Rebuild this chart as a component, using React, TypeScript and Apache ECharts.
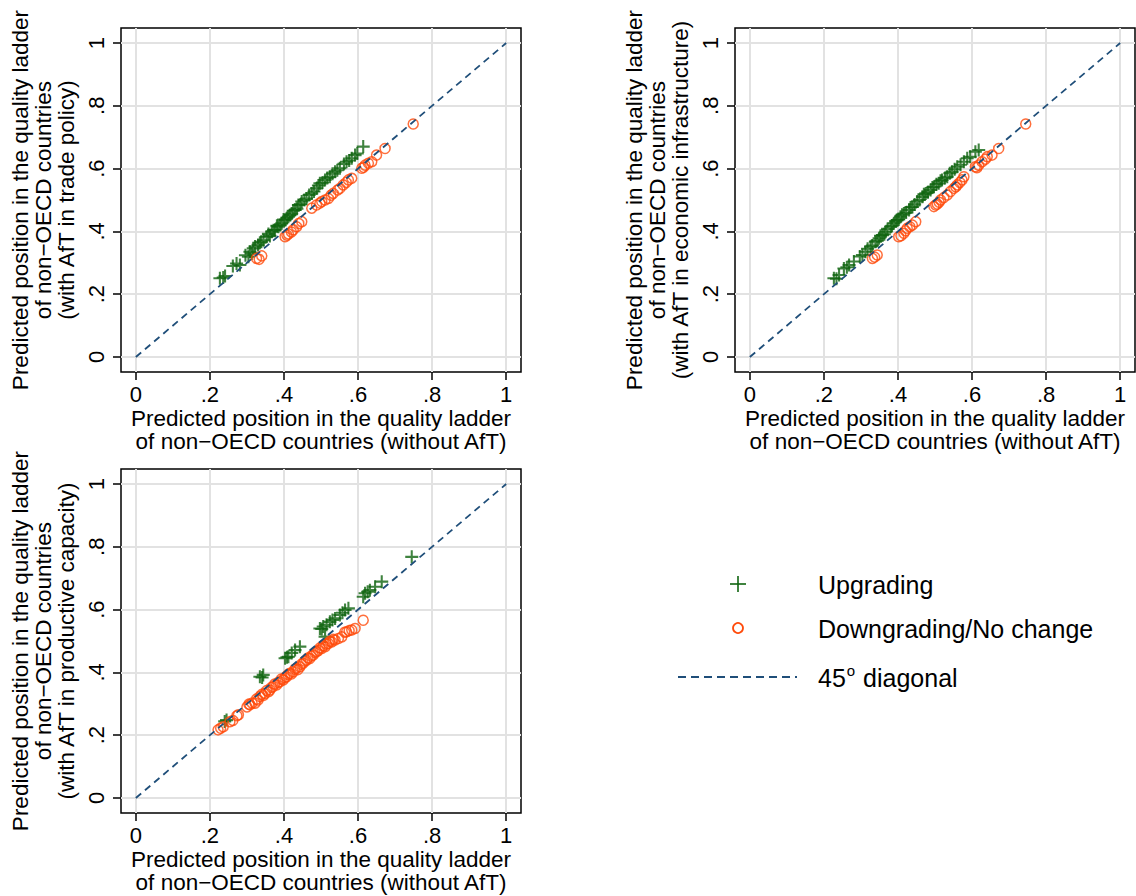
import React, { useEffect, useRef } from "react";
import * as echarts from "echarts";

const tickValues = [0, 0.2, 0.4, 0.6, 0.8, 1];
const diagonal = [[0, 0], [1, 1]];

const xTitle = "Predicted position in the quality ladder\nof non\u2212OECD countries (without AfT)";
const yTitles = [
  "Predicted position in the quality ladder\nof non\u2212OECD countries\n(with AfT in trade policy)",
  "Predicted position in the quality ladder\nof non\u2212OECD countries\n(with AfT in economic infrastructure)",
  "Predicted position in the quality ladder\nof non\u2212OECD countries\n(with AfT in productive capacity)",
];
const legendLabels = ["Upgrading", "Downgrading/No change", "45", "o", " diagonal"];

const tradeUp = [
  [0.227, 0.251], [0.236, 0.253], [0.241, 0.258], [0.262, 0.29], [0.272, 0.298], [0.281, 0.293],
  [0.296, 0.324], [0.304, 0.319], [0.308, 0.335], [0.313, 0.33], [0.317, 0.346], [0.322, 0.352],
  [0.33, 0.357], [0.335, 0.364], [0.339, 0.367], [0.345, 0.372], [0.353, 0.383], [0.358, 0.392],
  [0.362, 0.385], [0.367, 0.399], [0.372, 0.404], [0.376, 0.405], [0.381, 0.418], [0.385, 0.415],
  [0.39, 0.42], [0.394, 0.426], [0.399, 0.438], [0.403, 0.436], [0.408, 0.443], [0.412, 0.447],
  [0.416, 0.452], [0.421, 0.457], [0.425, 0.466], [0.43, 0.468], [0.435, 0.472], [0.439, 0.484],
  [0.444, 0.486], [0.448, 0.495], [0.455, 0.5], [0.461, 0.505], [0.468, 0.516], [0.475, 0.521],
  [0.481, 0.527], [0.488, 0.537], [0.493, 0.546], [0.497, 0.553], [0.504, 0.556], [0.511, 0.564],
  [0.517, 0.57], [0.524, 0.574], [0.531, 0.584], [0.538, 0.59], [0.544, 0.595], [0.551, 0.601],
  [0.562, 0.615], [0.569, 0.622], [0.576, 0.626], [0.583, 0.633], [0.592, 0.643], [0.598, 0.648],
  [0.614, 0.67],
];
const tradeDown = [
  [0.326, 0.314], [0.333, 0.311], [0.34, 0.322], [0.403, 0.383], [0.408, 0.388], [0.412, 0.392],
  [0.42, 0.398], [0.425, 0.405], [0.434, 0.415], [0.44, 0.425], [0.448, 0.431], [0.475, 0.474],
  [0.488, 0.484], [0.497, 0.49], [0.502, 0.495], [0.511, 0.5], [0.52, 0.505], [0.527, 0.515],
  [0.533, 0.521], [0.545, 0.532], [0.551, 0.537], [0.56, 0.548], [0.568, 0.556], [0.574, 0.564],
  [0.583, 0.569], [0.61, 0.601], [0.615, 0.604], [0.619, 0.611], [0.628, 0.617], [0.637, 0.622],
  [0.65, 0.643], [0.673, 0.664], [0.749, 0.742],
];
const infraUp = [
  [0.227, 0.251], [0.234, 0.249], [0.241, 0.261], [0.254, 0.282], [0.262, 0.286], [0.268, 0.293],
  [0.281, 0.304], [0.297, 0.32], [0.304, 0.325], [0.312, 0.335], [0.318, 0.345], [0.326, 0.351],
  [0.331, 0.355], [0.339, 0.367], [0.344, 0.371], [0.349, 0.378], [0.353, 0.386], [0.358, 0.388],
  [0.363, 0.391], [0.367, 0.399], [0.372, 0.408], [0.38, 0.415], [0.384, 0.418], [0.389, 0.426],
  [0.394, 0.432], [0.398, 0.436], [0.402, 0.438], [0.407, 0.447], [0.411, 0.453], [0.416, 0.457],
  [0.422, 0.46], [0.43, 0.468], [0.434, 0.476], [0.439, 0.478], [0.445, 0.486], [0.452, 0.495],
  [0.458, 0.5], [0.466, 0.51], [0.47, 0.518], [0.475, 0.521], [0.481, 0.525], [0.488, 0.532],
  [0.493, 0.54], [0.497, 0.542], [0.504, 0.55], [0.51, 0.553], [0.515, 0.561], [0.519, 0.564],
  [0.527, 0.57], [0.533, 0.574], [0.54, 0.585], [0.546, 0.59], [0.553, 0.598], [0.56, 0.606],
  [0.569, 0.612], [0.578, 0.622], [0.587, 0.633], [0.595, 0.638], [0.609, 0.654], [0.618, 0.659],
];
const infraDown = [
  [0.331, 0.314], [0.337, 0.318], [0.344, 0.325], [0.402, 0.383], [0.408, 0.386], [0.416, 0.394],
  [0.42, 0.402], [0.425, 0.41], [0.432, 0.415], [0.439, 0.42], [0.448, 0.431], [0.497, 0.479],
  [0.502, 0.484], [0.506, 0.487], [0.511, 0.493], [0.515, 0.5], [0.524, 0.508], [0.533, 0.516],
  [0.542, 0.527], [0.551, 0.537], [0.556, 0.542], [0.56, 0.548], [0.567, 0.556], [0.573, 0.564],
  [0.578, 0.574], [0.609, 0.606], [0.613, 0.603], [0.618, 0.611], [0.627, 0.622], [0.636, 0.63],
  [0.641, 0.638], [0.654, 0.643], [0.672, 0.664], [0.745, 0.742],
];
const prodUp = [
  [0.24, 0.244], [0.245, 0.248], [0.335, 0.386], [0.341, 0.384], [0.344, 0.392], [0.403, 0.445],
  [0.408, 0.448], [0.412, 0.45], [0.421, 0.462], [0.43, 0.471], [0.443, 0.482], [0.497, 0.54],
  [0.502, 0.538], [0.506, 0.546], [0.511, 0.514], [0.515, 0.552], [0.524, 0.561], [0.531, 0.567],
  [0.538, 0.572], [0.551, 0.583], [0.558, 0.59], [0.565, 0.599], [0.574, 0.604], [0.614, 0.641],
  [0.619, 0.652], [0.626, 0.657], [0.632, 0.662], [0.646, 0.673], [0.664, 0.689], [0.745, 0.768],
];
const prodDown = [
  [0.222, 0.217], [0.229, 0.222], [0.236, 0.227], [0.254, 0.243], [0.262, 0.247], [0.273, 0.262],
  [0.277, 0.265], [0.3, 0.29], [0.305, 0.299], [0.308, 0.297], [0.314, 0.302], [0.322, 0.302],
  [0.326, 0.315], [0.33, 0.312], [0.335, 0.323], [0.34, 0.33], [0.344, 0.326], [0.349, 0.333],
  [0.353, 0.342], [0.358, 0.338], [0.362, 0.344], [0.366, 0.352], [0.371, 0.355], [0.375, 0.363],
  [0.38, 0.36], [0.384, 0.368], [0.389, 0.37], [0.393, 0.379], [0.398, 0.376], [0.402, 0.383],
  [0.407, 0.386], [0.411, 0.393], [0.416, 0.397], [0.42, 0.395], [0.425, 0.402], [0.429, 0.41],
  [0.434, 0.413], [0.438, 0.409], [0.443, 0.418], [0.447, 0.426], [0.452, 0.429], [0.456, 0.436],
  [0.461, 0.439], [0.465, 0.446], [0.47, 0.444], [0.474, 0.452], [0.479, 0.455], [0.483, 0.463],
  [0.488, 0.466], [0.493, 0.47], [0.497, 0.478], [0.502, 0.476], [0.506, 0.485], [0.511, 0.482],
  [0.515, 0.49], [0.52, 0.492], [0.524, 0.499], [0.529, 0.497], [0.533, 0.505], [0.538, 0.503],
  [0.547, 0.508], [0.556, 0.513], [0.564, 0.528], [0.569, 0.529], [0.576, 0.533], [0.583, 0.535],
  [0.592, 0.54], [0.614, 0.566],
];

const panelsUp = [tradeUp, infraUp, prodUp];
const panelsDown = [tradeDown, infraDown, prodDown];

const FONT = "Liberation Sans, Arial, Helvetica, sans-serif";
const GREEN = "#0f640f";
const ORANGE = "#ff4a0a";
const NAVY = "#1f4e79";
const GRIDC = "#e2e2e2";
const CROSS = "path://M0,42h100v16h-100z M42,0h16v100h-16z";

const grids = [
  { left: 121, top: 28, width: 400, height: 344 },
  { left: 735, top: 28, width: 400, height: 344 },
  { left: 121, top: 469, width: 400, height: 344 },
];

const fmt = (v: number) => (v === 0 ? "0" : v === 1 ? "1" : v.toFixed(1).replace(/^0/, ""));

export default function App() {
  const ref = useRef<HTMLDivElement>(null);
  useEffect(() => {
    if (!ref.current) return;
    const chart = echarts.init(ref.current, undefined, { renderer: "svg" });
    const xAxis: any[] = [];
    const yAxis: any[] = [];
    const series: any[] = [];
    grids.forEach((g, i) => {
      xAxis.push({
        gridIndex: i,
        type: "value",
        min: -0.04,
        max: 1.04,
        axisLine: { show: false, onZero: false },
        axisTick: { show: true, inside: false, length: 8, lineStyle: { color: "#000", width: 1.5 }, customValues: tickValues },
        axisLabel: { customValues: tickValues, formatter: fmt, fontSize: 22, color: "#000", fontFamily: FONT, margin: 11 },
        splitLine: { show: true, lineStyle: { color: GRIDC, width: 2 } },
        name: xTitle,
        nameLocation: "middle",
        nameGap: 35,
        nameTextStyle: { fontSize: 22.5, lineHeight: 23, color: "#000", fontFamily: FONT },
      });
      yAxis.push({
        gridIndex: i,
        type: "value",
        min: -0.0478,
        max: 1.0478,
        axisLine: { show: false, onZero: false },
        axisTick: { show: true, inside: false, length: 8, lineStyle: { color: "#000", width: 1.5 }, customValues: tickValues },
        axisLabel: { customValues: tickValues, formatter: fmt, fontSize: 22, color: "#000", fontFamily: FONT, margin: 14, rotate: 90 },
        splitLine: { show: true, lineStyle: { color: GRIDC, width: 2 } },
        name: yTitles[i],
        nameLocation: "middle",
        nameGap: 43,
        nameTextStyle: { fontSize: 22.5, lineHeight: 23, color: "#000", fontFamily: FONT },
      });
      series.push({
        type: "scatter",
        name: "Upgrading",
        xAxisIndex: i,
        yAxisIndex: i,
        data: panelsUp[i],
        symbol: CROSS,
        symbolSize: 13,
        itemStyle: { color: GREEN },
        z: 3,
      });
      series.push({
        type: "scatter",
        name: "Downgrading/No change",
        xAxisIndex: i,
        yAxisIndex: i,
        data: panelsDown[i],
        symbol: "circle",
        symbolSize: 10,
        itemStyle: { color: "rgba(0,0,0,0)", borderColor: ORANGE, borderWidth: 1.5 },
        z: 3,
      });
      series.push({
        type: "line",
        name: "45o diagonal",
        xAxisIndex: i,
        yAxisIndex: i,
        data: diagonal,
        showSymbol: false,
        symbol: "none",
        lineStyle: { color: NAVY, width: 1.8, type: [7, 5] },
        z: 4,
      });
    });

    const graphic: any[] = [
      { type: "line", shape: { x1: 730, y1: 584, x2: 746, y2: 584 }, style: { stroke: GREEN, lineWidth: 1.6 } },
      { type: "line", shape: { x1: 738, y1: 576, x2: 738, y2: 592 }, style: { stroke: GREEN, lineWidth: 1.6 } },
      { type: "circle", shape: { cx: 738, cy: 628, r: 5 }, style: { fill: "none", stroke: ORANGE, lineWidth: 1.8 } },
      { type: "line", shape: { x1: 678, y1: 677, x2: 797, y2: 677 }, style: { stroke: NAVY, lineWidth: 2, lineDash: [8, 5] } },
      { type: "text", x: 818, y: 585, style: { text: legendLabels[0], fontSize: 25, fontFamily: FONT, fill: "#000", verticalAlign: "middle" } },
      { type: "text", x: 818, y: 629, style: { text: legendLabels[1], fontSize: 25, fontFamily: FONT, fill: "#000", verticalAlign: "middle" } },
      {
        type: "text",
        x: 818,
        y: 678,
        style: {
          text: "{n|" + legendLabels[2] + "}{s|" + legendLabels[3] + "}{n|" + legendLabels[4] + "}",
          fontFamily: FONT,
          fill: "#000",
          verticalAlign: "middle",
          rich: {
            n: { fontSize: 25, lineHeight: 30, fontFamily: FONT, fill: "#000" },
            s: { fontSize: 15, lineHeight: 15, fontFamily: FONT, fill: "#000", verticalAlign: "top", padding: [0, 1, 0, 1] },
          },
        },
      },
    ];

    chart.setOption({
      animation: false,
      backgroundColor: "#fff",
      textStyle: { fontFamily: FONT },
      grid: grids.map((g) => ({ ...g, show: true, borderColor: "#000", borderWidth: 1.5, backgroundColor: "#fff", containLabel: false })),
      xAxis,
      yAxis,
      series,
      graphic,
    });
    return () => chart.dispose();
  }, []);
  return <div ref={ref} style={{ position: "absolute", left: 0, top: 0, width: 1136, height: 896 }} />;
}
